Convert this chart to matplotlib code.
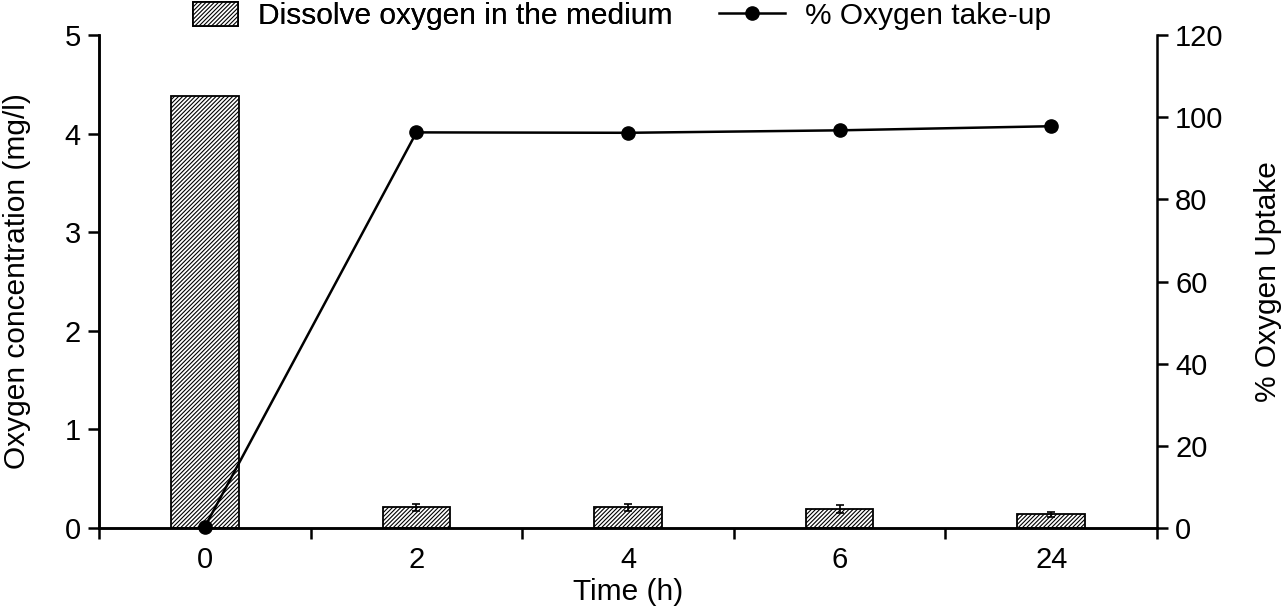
import numpy as np
import matplotlib.pyplot as plt

plt.rcParams['font.family'] = ['Liberation Sans', 'DejaVu Sans']
plt.rcParams['hatch.linewidth'] = 0.8
plt.rcParams['hatch.color'] = '#3a3a3a'

times = ['0', '2', '4', '6', '24']
dissolved = [4.38, 0.21, 0.21, 0.19, 0.14]
dissolved_err = [0.0, 0.035, 0.035, 0.04, 0.025]
uptake = [0.3, 96.3, 96.2, 96.8, 97.8]

fs = 21.5
tfs = 21

fig = plt.figure(figsize=(12.83, 6.09), dpi=100)
ax = fig.add_axes([0.0772, 0.133, 0.8246, 0.8095])
ax2 = ax.twinx()

x = np.arange(len(times))
bars = ax.bar(x, dissolved, width=0.32, color='white', edgecolor='black',
              linewidth=1.3, hatch='////////', label='Dissolve oxygen in the medium', zorder=2)
ax.errorbar(x[1:], dissolved[1:], yerr=dissolved_err[1:], fmt='none', ecolor='black',
            elinewidth=1.2, capsize=3, capthick=1.2, zorder=3)
line, = ax2.plot(x, uptake, color='black', lw=1.8, marker='o', markersize=9.5,
                 label='% Oxygen take-up', zorder=4, clip_on=False)

ax.set_xlim(-0.5, len(times) - 0.5)
ax.set_ylim(0, 5)
ax2.set_ylim(0, 120)

# boundary ticks between categories, labels centred under each category
ax.set_xticks(np.arange(-0.5, len(times), 1.0))
ax.set_xticklabels([])
ax.set_xticks(x, minor=True)
ax.set_xticklabels(times, minor=True)
ax.tick_params(axis='x', which='major', direction='out', length=8, width=1.8)
ax.tick_params(axis='x', which='minor', length=0, pad=13, labelsize=tfs)
ax.tick_params(axis='y', direction='out', length=8, width=1.8, labelsize=tfs, pad=5)
ax2.tick_params(axis='y', direction='out', length=8, width=1.8, labelsize=tfs, pad=5)
ax.set_yticks(range(0, 6))
ax2.set_yticks(range(0, 121, 20))

for a in (ax, ax2):
    a.spines['top'].set_visible(False)
    for s in ('left', 'right', 'bottom'):
        a.spines[s].set_linewidth(1.8)
ax.spines['right'].set_visible(False)

ax.set_xlabel('Time (h)', fontsize=fs, labelpad=3)
ax.set_ylabel('Oxygen concentration (mg/l)', fontsize=fs, labelpad=24)
ax2.set_ylabel('% Oxygen Uptake', fontsize=fs, labelpad=22)

leg1 = fig.legend(handles=[bars], loc='upper left', bbox_to_anchor=(0.1504, 0.997),
                  frameon=False, fontsize=fs, handlelength=1.5, handleheight=0.85,
                  handletextpad=0.67, borderpad=0, borderaxespad=0)
fig.add_artist(leg1)
fig.legend(handles=[line], loc='upper left', bbox_to_anchor=(0.5604, 0.997),
           frameon=False, fontsize=fs, handlelength=2.2, handletextpad=0.67,
           borderpad=0, borderaxespad=0)

fig.savefig('out.png', dpi=100)
